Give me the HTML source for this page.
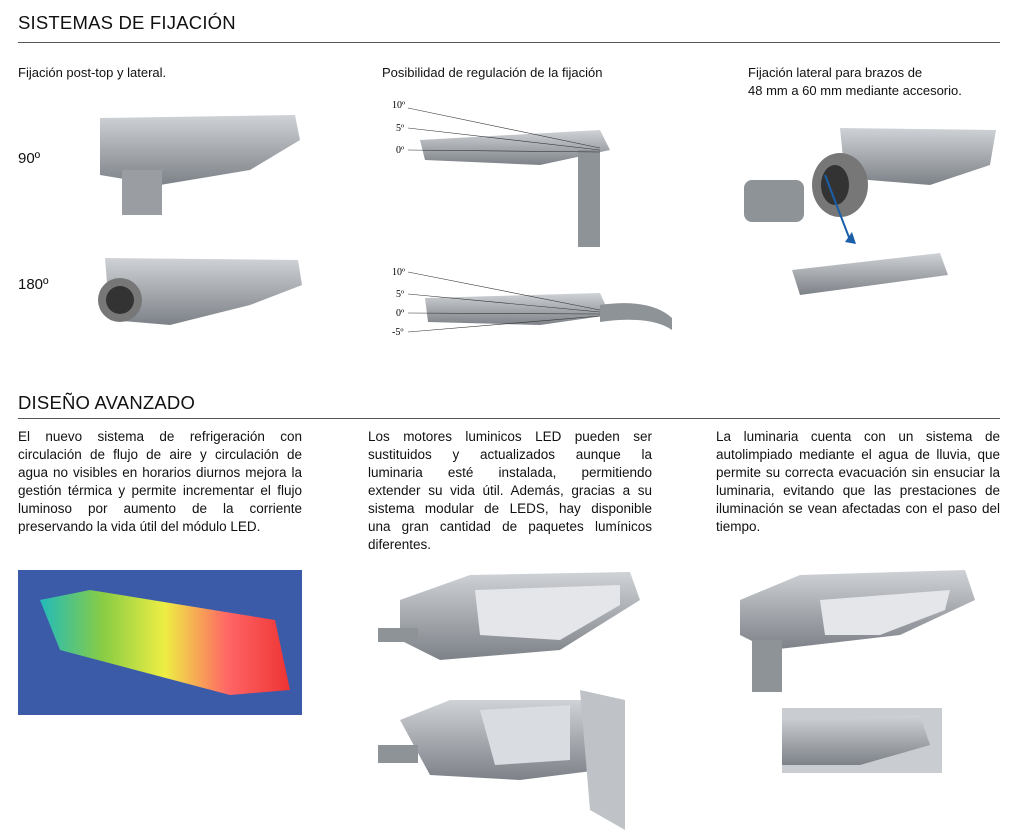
<!DOCTYPE html>
<html><head><meta charset="utf-8"><style>
body{margin:0;width:1024px;height:833px;background:#fff;font-family:"Liberation Sans",sans-serif;color:#111;position:relative;overflow:hidden}
.h{position:absolute;left:18px;font-size:18.5px;letter-spacing:0.2px}
.rule{position:absolute;left:18px;width:982px;height:1px;background:#555}
.t{position:absolute;font-size:13px;line-height:18px}
.p{position:absolute;font-size:13.5px;line-height:18px;text-align:justify;text-align-last:left}
.j div{text-align:justify;text-align-last:justify;white-space:nowrap}
.j div.l{text-align-last:left}
svg{position:absolute;left:0;top:0}
.s{font-size:10px;font-family:"Liberation Serif",serif}
</style></head><body>
<div class="h" style="top:12px">SISTEMAS DE FIJACIÓN</div>
<div class="rule" style="top:42px"></div>
<div class="t" style="left:18px;top:64px">Fijación post-top y lateral.</div>
<div class="t" style="left:382px;top:64px">Posibilidad de regulación de la fijación</div>
<div class="t" style="left:748px;top:64px">Fijación lateral para brazos de<br>48 mm a 60 mm mediante accesorio.</div>
<div class="t" style="left:18px;top:150px;font-size:15px">90º</div>
<div class="t" style="left:18px;top:276px;font-size:15px">180º</div>

<div class="h" style="top:392px">DISEÑO AVANZADO</div>
<div class="rule" style="top:418px"></div>
<div class="p" style="left:18px;top:428px;width:284px">El nuevo sistema de refrigeración con circulación de flujo de aire y circulación de agua no visibles en horarios diurnos mejora la gestión térmica y permite incrementar el flujo luminoso por aumento de la corriente preservando la vida útil del módulo LED.</div>
<div class="p j" style="left:368px;top:428px;width:284px">
<div>Los motores luminicos LED pueden ser</div>
<div>sustituidos y actualizados aunque la</div>
<div>luminaria esté instalada, permitiendo</div>
<div>extender su vida útil. Además, gracias a su</div>
<div>sistema modular de LEDS, hay disponible</div>
<div>una gran cantidad de paquetes lumínicos</div>
<div class="l">diferentes.</div>
</div>
<div class="p" style="left:716px;top:428px;width:284px">La luminaria cuenta con un sistema de autolimpiado mediante el agua de lluvia, que permite su correcta evacuación sin ensuciar la luminaria, evitando que las prestaciones de iluminación se vean afectadas con el paso del tiempo.</div>

<svg width="1024" height="833">
<defs>
<linearGradient id="g" x1="0" x2="1"><stop offset="0" stop-color="#2bb"/><stop offset="0.25" stop-color="#8c4"/><stop offset="0.5" stop-color="#ee4"/><stop offset="0.75" stop-color="#f66"/><stop offset="1" stop-color="#e33"/></linearGradient>
<linearGradient id="m" x1="0" y1="0" x2="0" y2="1"><stop offset="0" stop-color="#cfd2d6"/><stop offset="1" stop-color="#7d8288"/></linearGradient>
</defs>
<path d="M100 118 L295 115 L300 140 L250 170 L160 185 L100 175 Z" fill="url(#m)"/>
<rect x="122" y="170" width="40" height="45" fill="#9a9ea3"/>
<path d="M105 258 L298 260 L302 285 L250 305 L170 325 L110 320 Z" fill="url(#m)"/>
<circle cx="120" cy="300" r="22" fill="#777"/><circle cx="120" cy="300" r="14" fill="#333"/>
<path d="M420 140 L600 130 L610 150 L540 165 L425 160 Z" fill="url(#m)"/>
<rect x="578" y="150" width="22" height="97" fill="#8e9398"/>
<g stroke="#333" stroke-width="0.6"><line x1="408" y1="108" x2="600" y2="148"/><line x1="408" y1="128" x2="600" y2="150"/><line x1="408" y1="150" x2="600" y2="152"/></g>
<text class="s" x="392" y="108">10º</text><text class="s" x="396" y="131">5º</text><text class="s" x="396" y="153">0º</text>
<path d="M425 298 L600 293 L610 315 L540 325 L428 322 Z" fill="url(#m)"/>
<path d="M600 305 Q650 298 672 318 L672 330 Q650 315 600 322 Z" fill="#8e9398"/>
<g stroke="#333" stroke-width="0.6"><line x1="408" y1="272" x2="600" y2="310"/><line x1="408" y1="294" x2="600" y2="312"/><line x1="408" y1="313" x2="600" y2="314"/><line x1="408" y1="332" x2="600" y2="316"/></g>
<text class="s" x="392" y="275">10º</text><text class="s" x="396" y="297">5º</text><text class="s" x="396" y="316">0º</text><text class="s" x="392" y="335">-5º</text>
<path d="M840 128 L996 130 L990 165 L930 185 L845 178 Z" fill="url(#m)"/>
<rect x="744" y="180" width="60" height="42" rx="8" fill="#8e9398"/>
<ellipse cx="840" cy="185" rx="28" ry="32" fill="#777"/><ellipse cx="835" cy="185" rx="14" ry="20" fill="#333"/>
<line x1="825" y1="175" x2="850" y2="240" stroke="#1a5fa8" stroke-width="2"/>
<path d="M845 242 L852 232 L856 244 Z" fill="#1a5fa8"/>
<path d="M792 270 L940 253 L948 275 L800 295 Z" fill="url(#m)"/>
<rect x="18" y="570" width="284" height="145" fill="#3b5ba9"/>
<path d="M40 600 L90 590 L275 620 L290 690 L230 695 L60 650 Z" fill="url(#g)"/>
<path d="M400 600 L470 575 L630 572 L640 600 L560 650 L440 660 L400 640 Z" fill="url(#m)"/>
<path d="M475 590 L620 585 L620 605 L560 640 L480 635 Z" fill="#e4e6ea"/>
<rect x="378" y="628" width="40" height="14" fill="#8e9398"/>
<path d="M400 720 L450 700 L600 700 L600 770 L520 780 L430 775 Z" fill="url(#m)"/>
<path d="M480 710 L570 705 L570 760 L495 765 Z" fill="#d9dde2"/>
<path d="M580 690 L625 700 L625 830 L590 810 Z" fill="#bfc3c7"/>
<rect x="378" y="745" width="40" height="18" fill="#8e9398"/>
<path d="M740 600 L800 575 L965 570 L975 600 L900 635 L770 650 L740 635 Z" fill="url(#m)"/>
<path d="M820 600 L950 590 L945 610 L880 635 L825 635 Z" fill="#e4e6ea"/>
<rect x="752" y="640" width="30" height="52" fill="#8e9398"/>
<rect x="782" y="708" width="160" height="65" fill="#c9ccd0"/>
<path d="M782 720 L920 715 L930 745 L860 765 L782 765 Z" fill="url(#m)"/>
</svg>
</body></html>
